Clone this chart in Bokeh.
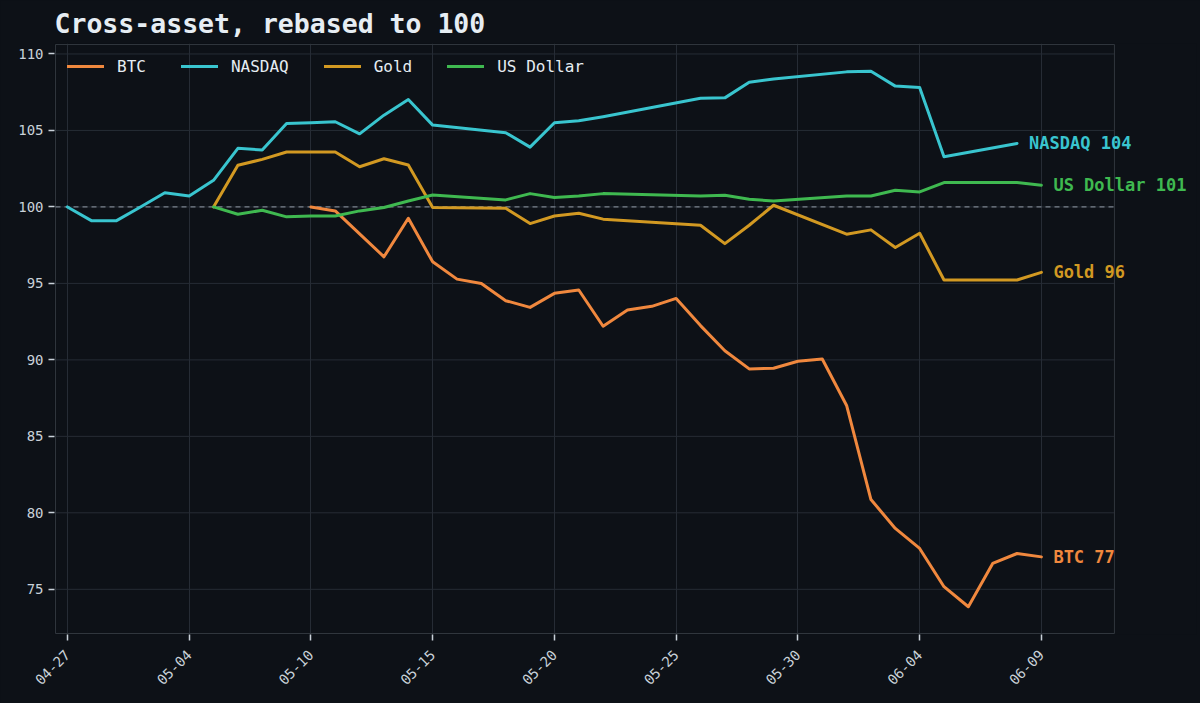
import math
from bokeh.plotting import figure
from bokeh.models import Range1d, Legend, LegendItem, Label, FixedTicker
from bokeh.embed import file_html
from bokeh.resources import INLINE

# ---- data (x = day index on the chart, values rebased to 100) ----
tick_positions = [0, 5, 10, 15, 20, 25, 30, 35, 40]
tick_labels = ["04-27", "05-04", "05-10", "05-15", "05-20", "05-25", "05-30", "06-04", "06-09"]
y_ticks = [75, 80, 85, 90, 95, 100, 105, 110]
base_value = 100

btc_x = list(range(10, 41))
btc_y = [100.0, 99.74, 98.24, 96.74, 99.26, 96.41, 95.28, 95.0, 93.87, 93.43, 94.35,
         94.57, 92.2, 93.26, 93.5, 94.02, 92.24, 90.6, 89.41, 89.45, 89.91, 90.06,
         87.02, 80.87, 78.98, 77.67, 75.17, 73.86, 76.69, 77.34, 77.12]

nasdaq_x = [0, 1, 2, 3, 4, 5, 6, 7, 8, 9, 10, 11, 12, 13, 14, 15, 18, 19, 20, 21, 22,
            26, 27, 28, 29, 32, 33, 34, 35, 36, 39]
nasdaq_y = [100.0, 99.09, 99.09, 100.0, 100.93, 100.72, 101.74, 103.83, 103.72, 105.46,
            105.5, 105.57, 104.78, 106.0, 107.02, 105.35, 104.85, 103.91, 105.5, 105.63,
            105.9, 107.1, 107.13, 108.15, 108.37, 108.83, 108.87, 107.9, 107.81, 103.28, 104.15]

gold_x = [6, 7, 8, 9, 10, 11, 12, 13, 14, 15, 18, 19, 20, 21, 22, 26, 27, 28, 29,
          32, 33, 34, 35, 36, 39, 40]
gold_y = [100.0, 102.72, 103.11, 103.59, 103.59, 103.59, 102.63, 103.15, 102.74, 99.96,
          99.91, 98.91, 99.41, 99.59, 99.2, 98.8, 97.6, 98.8, 100.11, 98.22, 98.5,
          97.35, 98.28, 95.22, 95.22, 95.72]

usd_x = [6, 7, 8, 9, 10, 11, 12, 13, 14, 15, 18, 19, 20, 21, 22, 26, 27, 28, 29,
         32, 33, 34, 35, 36, 39, 40]
usd_y = [100.0, 99.52, 99.78, 99.35, 99.4, 99.41, 99.74, 99.96, 100.39, 100.78,
         100.46, 100.87, 100.61, 100.72, 100.87, 100.72, 100.76, 100.5, 100.39,
         100.72, 100.72, 101.09, 100.98, 101.59, 101.59, 101.42]

series_names = ["BTC", "NASDAQ", "Gold", "US Dollar"]
series_colors = ["#f0883e", "#39c5cf", "#d29922", "#3fb950"]

BG = "#0d1117"
TXT = "#e6edf3"
TICK = "#c9d1d9"
GRID = "#262c35"
FRAME = "#30363d"
FONT = "DejaVu Sans Mono"

# visible plot box (data units); the frame extends to the right to leave room for end labels
box_x = (-0.49, 43.0)
box_y = (72.11, 110.62)

p = figure(width=1200, height=703, output_backend="svg", toolbar_location=None,
           x_range=Range1d(-0.531, 46.37), y_range=Range1d(72.045, 110.685),
           min_border_left=54, min_border_right=4, min_border_top=43, min_border_bottom=69)
p.background_fill_color = BG
p.border_fill_color = BG
p.outline_line_color = None
p.styles = {"background-color": BG}

p.title.text = "Cross-asset, rebased to 100"
p.title.text_font = FONT
p.title.text_font_size = "26.5px"
p.title.text_font_style = "bold"
p.title.text_color = TXT
p.title.align = "left"

# horizontal grid lines and frame box limited to the visible box
p.segment(x0=box_x[0], x1=box_x[1], y0=y_ticks, y1=y_ticks, line_color=GRID, line_width=1)
p.quad(left=box_x[0], right=box_x[1], bottom=box_y[0], top=box_y[1],
       fill_color=None, line_color=FRAME, line_width=1)
p.line(x=list(box_x), y=[base_value, base_value], line_color="#8b949e",
       line_dash="5 4", line_width=1.2, line_alpha=0.85)

xs = [btc_x, nasdaq_x, gold_x, usd_x]
ys = [btc_y, nasdaq_y, gold_y, usd_y]
items = []
for name, color, x, y in zip(series_names, series_colors, xs, ys):
    r = p.line(x, y, line_color=color, line_width=3, line_join="round", line_cap="round")
    items.append(LegendItem(label=name, renderers=[r]))
    p.add_layout(Label(x=x[-1], y=y[-1], x_offset=12, text=f"{name} {round(y[-1])}",
                       text_color=color, text_font=FONT, text_font_style="bold",
                       text_font_size="17px", text_baseline="middle"))

legend = Legend(items=items, location="top_left", orientation="horizontal",
                background_fill_alpha=0, border_line_alpha=0,
                label_text_color=TXT, label_text_font=FONT, label_text_font_size="16px",
                glyph_width=37, glyph_height=20, label_standoff=13, spacing=35,
                padding=13, margin=0)
p.add_layout(legend)

p.xaxis.ticker = FixedTicker(ticks=tick_positions)
p.xaxis.major_label_overrides = {t: lab for t, lab in zip(tick_positions, tick_labels)}
p.xaxis.major_label_orientation = math.pi / 4
p.xaxis.major_label_standoff = 12
p.yaxis.ticker = FixedTicker(ticks=y_ticks)
for ax in (p.xaxis, p.yaxis):
    ax.axis_line_color = None
    ax.major_tick_line_color = TICK
    ax.major_tick_line_width = 1.5
    ax.major_tick_out = 6
    ax.major_tick_in = 0
    ax.minor_tick_line_color = None
    ax.major_label_text_font = FONT
    ax.major_label_text_font_size = "14px"
    ax.major_label_text_color = TICK
p.xgrid.grid_line_color = GRID
p.ygrid.grid_line_color = None

open("out.html", "w").write(file_html(p, INLINE))
